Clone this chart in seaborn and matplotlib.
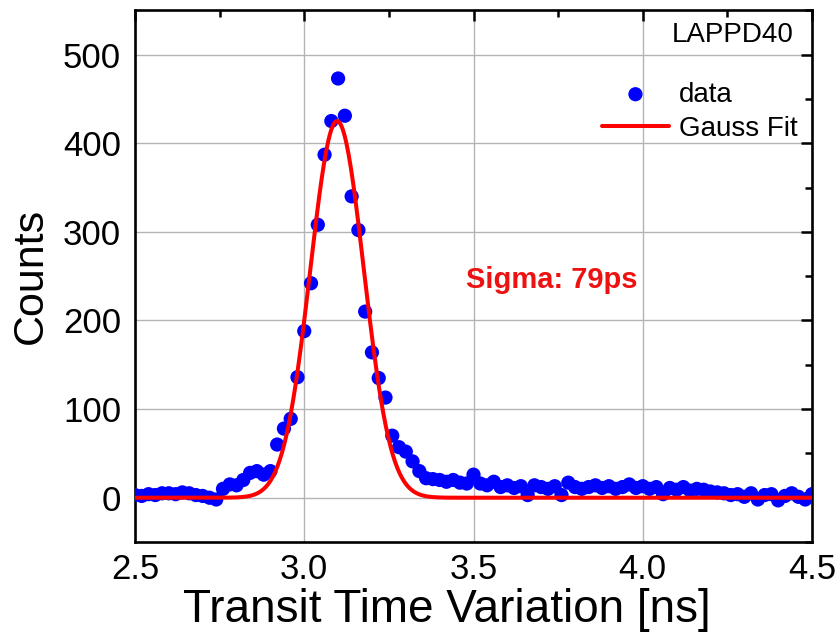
import numpy as np
import pandas as pd
import matplotlib
matplotlib.use("Agg")
import matplotlib.pyplot as plt
from matplotlib.ticker import MultipleLocator
import seaborn as sns

# histogram bins (ns) and counts
tempo = [2.50, 2.52, 2.54, 2.56, 2.58, 2.60, 2.62, 2.64, 2.66, 2.68,
         2.70, 2.72, 2.74, 2.76, 2.78, 2.80, 2.82, 2.84, 2.86, 2.88,
         2.90, 2.92, 2.94, 2.96, 2.98, 3.00, 3.02, 3.04, 3.06, 3.08,
         3.10, 3.12, 3.14, 3.16, 3.18, 3.20, 3.22, 3.24, 3.26, 3.28,
         3.30, 3.32, 3.34, 3.36, 3.38, 3.40, 3.42, 3.44, 3.46, 3.48,
         3.50, 3.52, 3.54, 3.56, 3.58, 3.60, 3.62, 3.64, 3.66, 3.68,
         3.70, 3.72, 3.74, 3.76, 3.78, 3.80, 3.82, 3.84, 3.86, 3.88,
         3.90, 3.92, 3.94, 3.96, 3.98, 4.00, 4.02, 4.04, 4.06, 4.08,
         4.10, 4.12, 4.14, 4.16, 4.18, 4.20, 4.22, 4.24, 4.26, 4.28,
         4.30, 4.32, 4.34, 4.36, 4.38, 4.40, 4.42, 4.44, 4.46, 4.48,
         4.50]
contagens = [3, 2, 4, 3, 5, 5, 4, 6, 5, 3,
             2, 0, -2, 10, 15, 14, 20, 28, 30, 26,
             30, 60, 78, 89, 136, 188, 242, 308, 387, 425,
             473, 431, 340, 302, 210, 164, 135, 113, 70, 57,
             52, 41, 30, 22, 21, 20, 18, 20, 17, 16,
             26, 16, 14, 18, 12, 14, 11, 13, 3, 14,
             12, 10, 13, 3, 17, 12, 10, 12, 14, 11,
             13, 10, 12, 15, 11, 13, 10, 12, 4, 11,
             9, 12, 8, 10, 9, 7, 6, 5, 3, 4,
             1, 5, -2, 3, 4, -3, 2, 5, 1, -2,
             4]

# parametros do ajuste gaussiano
amplitude = 425
centro = 3.097
sigma = 0.079

df = pd.DataFrame({"t": tempo, "n": contagens})
t_fit = np.linspace(2.5, 4.5, 600)
fit = pd.DataFrame({"t": t_fit, "n": amplitude * np.exp(-0.5 * ((t_fit - centro) / sigma) ** 2)})

sns.set_style("white")
plt.rcParams['font.family'] = ['Liberation Sans', 'DejaVu Sans']
plt.rcParams['text.color'] = 'black'
plt.rcParams['axes.labelcolor'] = 'black'
plt.rcParams['xtick.color'] = 'black'
plt.rcParams['ytick.color'] = 'black'

fig, ax = plt.subplots(figsize=(8.4, 6.41), dpi=100)
fig.subplots_adjust(left=0.1607, right=0.9667, top=0.984, bottom=0.1544)

sns.scatterplot(data=df, x="t", y="n", ax=ax, color="#0000ff", s=105,
                edgecolor="none", label="data", zorder=3)
sns.lineplot(data=fit, x="t", y="n", ax=ax, color="#ff0000", linewidth=2.9,
             label="Gauss Fit", zorder=4)

ax.set_xlim(2.5, 4.5)
ax.set_ylim(-50, 550)
ax.xaxis.set_major_locator(MultipleLocator(0.5))
ax.xaxis.set_minor_locator(MultipleLocator(0.25))
ax.yaxis.set_major_locator(MultipleLocator(100))
ax.yaxis.set_minor_locator(MultipleLocator(50))
ax.set_xticks([2.5, 3.0, 3.5, 4.0, 4.5])
ax.set_xticklabels(["2.5", "3.0", "3.5", "4.0", "4.5"])

ax.grid(True, which="major", color="#b4b4b4", linewidth=1.0)
ax.tick_params(which="both", direction="in", top=True, right=True,
               width=1.8, color="black", labelsize=25)
ax.tick_params(which="major", length=8)
ax.tick_params(which="minor", length=5)
ax.tick_params(axis="y", which="major", pad=10)
ax.tick_params(axis="x", which="major", pad=8)
for sp in ax.spines.values():
    sp.set_color("black")
    sp.set_linewidth(1.9)

ax.set_xlabel("Transit Time Variation [ns]", fontsize=33)
ax.set_ylabel("Counts", fontsize=31)
ax.xaxis.set_label_coords(0.46, -0.087)
ax.yaxis.set_label_coords(-0.124, 0.5)

ax.text(4.447, 522, "LAPPD40", fontsize=20, ha="right", va="center")
ax.text(3.73, 246, "Sigma: 79ps", fontsize=21, fontweight="bold",
        color="#ee1111", ha="center", va="center")

ax.legend(loc="upper right", bbox_to_anchor=(0.978, 0.866), frameon=False,
          fontsize=20, handlelength=2.4, handletextpad=0.35, borderpad=0,
          borderaxespad=0, labelspacing=0.3)

plt.savefig("out.png", dpi=100)
